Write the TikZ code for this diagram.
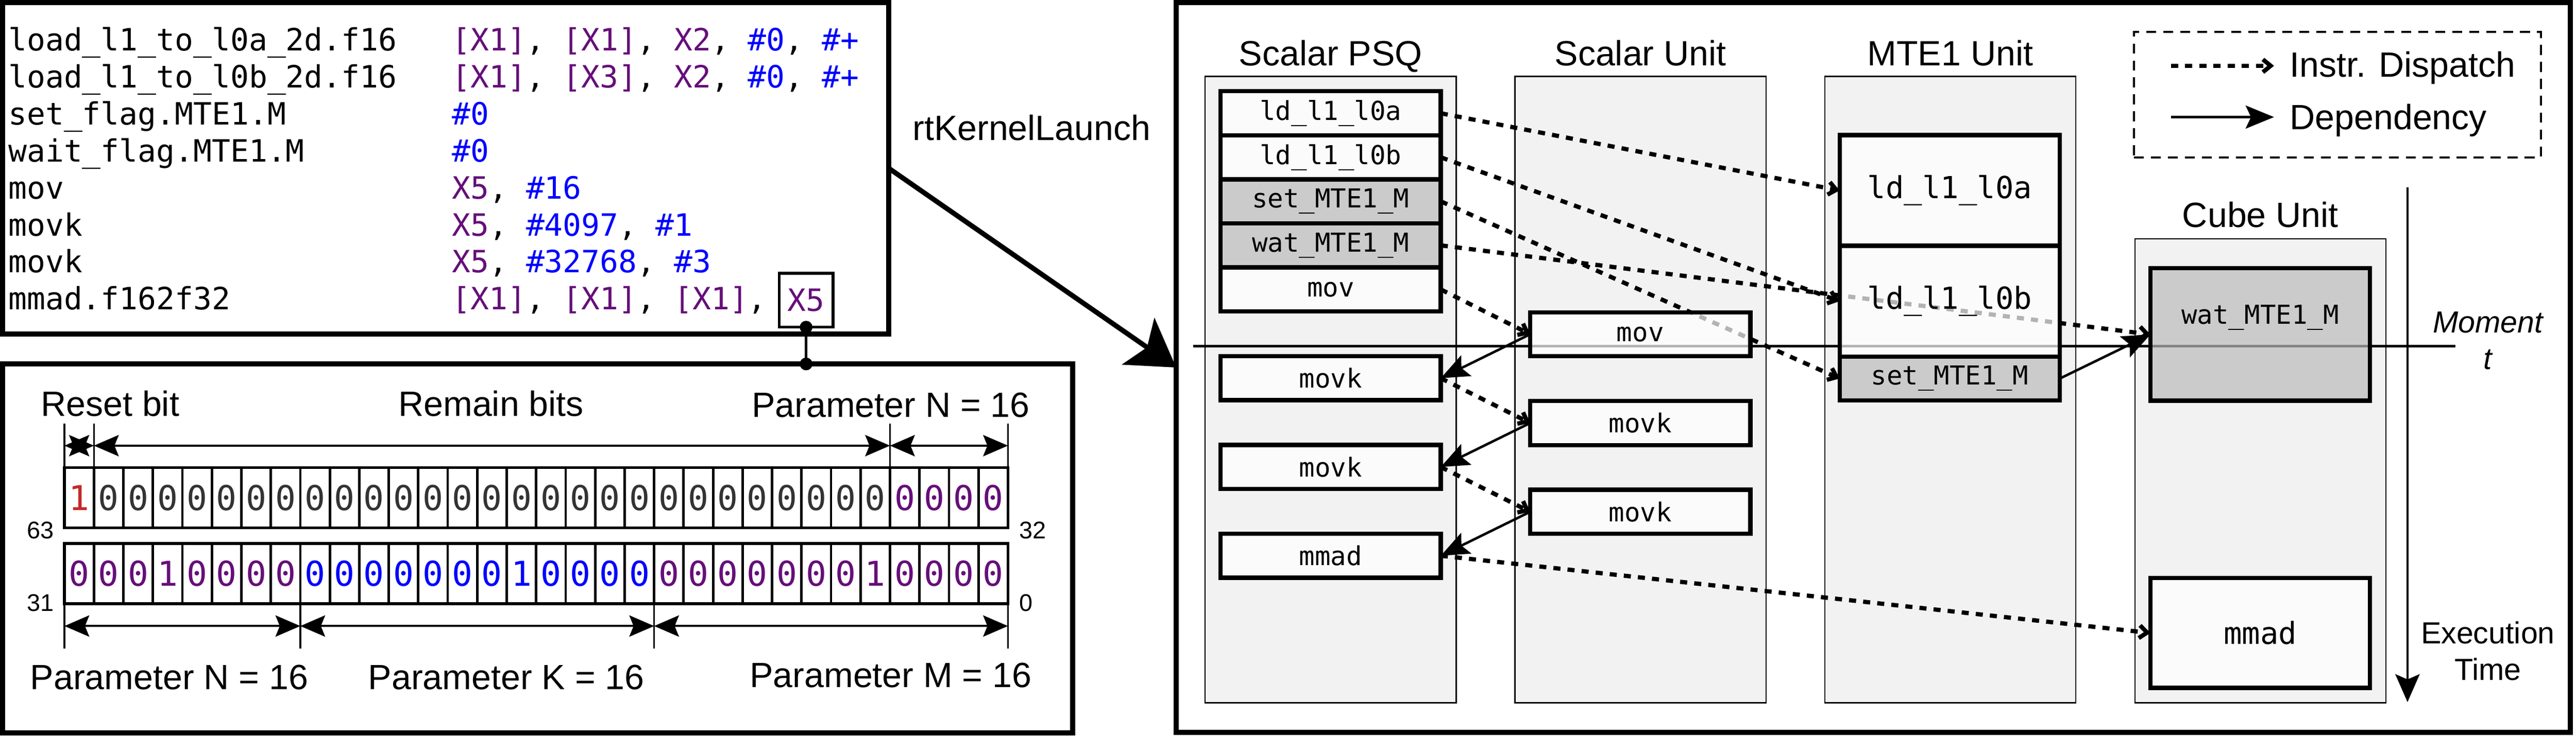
\documentclass[tikz,border=0pt]{standalone}
\usepackage{fontspec}
\setmainfont{Liberation Sans}
\newfontfamily\monofam{DejaVu Sans Mono}
\usetikzlibrary{arrows.meta}
\usetikzlibrary{positioning}

\definecolor{regpurple}{HTML}{660E7A}
\definecolor{immblue}{HTML}{0000FF}
\definecolor{bitred}{HTML}{C62828}
\definecolor{bitgrey}{HTML}{333333}
\definecolor{lanegrey}{HTML}{F2F2F2}
\definecolor{flaggrey}{HTML}{BBBBBB}

\newcommand{\fntlbl}{\fontsize{28.2}{34}\selectfont}
\newcommand{\fntsml}{\fontsize{24.5}{29.3}\selectfont}
\newcommand{\fntidx}{\fontsize{19.4}{23}\selectfont}
\newcommand{\fntasm}{\monofam\fontsize{24.7}{29.7}\selectfont}
\newcommand{\fntins}{\monofam\fontsize{21}{25}\selectfont}
\newcommand{\fntbig}{\monofam\fontsize{24.4}{29}\selectfont}
\newcommand{\fntbit}{\monofam\fontsize{27.5}{33}\selectfont}
\newcommand{\regc}[1]{\textcolor{regpurple}{#1}}
\newcommand{\immc}[1]{\textcolor{immblue}{#1}}

\pgfdeclarelayer{background}
\pgfdeclarelayer{wires}
\pgfsetlayers{background,wires,main}

\tikzset{
  panel/.style={draw, line width=0.14cm, anchor=north west, inner sep=0pt, outer sep=0pt},
  lane/.style={draw, fill=lanegrey, line width=0.035cm, anchor=north west, minimum width=7.09cm, outer sep=0pt},
  ins/.style={draw, line width=0.12cm, fill=white, fill opacity=0.7, text opacity=1, minimum width=6.22cm, minimum height=1.245cm, inner sep=0pt, outer sep=0pt, font=\fntins},
  flag/.style={ins, fill=flaggrey},
  bitrow/.style={draw, line width=0.08cm, anchor=north west, outer sep=0pt, minimum width=26.65cm, minimum height=1.7cm},
  title/.style={font=\fntlbl, anchor=base, inner sep=0pt},
  asm/.style={font=\fntasm, anchor=base west, inner sep=0pt},
  bit/.style={font=\fntbit, inner sep=0pt},
  idx/.style={font=\fntidx, inner sep=0pt},
  dispatch/.style={line width=0.12cm, dash pattern=on 0.2cm off 0.2cm, -{Straight Barb[length=0.22cm,width=0.36cm]}},
  dep/.style={line width=0.07cm, -{Stealth[length=0.8cm,width=0.65cm,inset=0.15cm]}},
  span/.style={line width=0.06cm, {Stealth[length=0.7cm,width=0.6cm,inset=0.12cm]}-{Stealth[length=0.7cm,width=0.6cm,inset=0.12cm]}},
}

\begin{document}
\begin{tikzpicture}
\useasboundingbox (0,0) rectangle (72.76,-20.80);

% assembly listing
\node[panel, minimum width=25.03cm, minimum height=9.37cm] (code) at (0.07,-0.07) {};
\node[asm] (c1) at (0.23,-1.43) {load\_l1\_to\_l0a\_2d.f16};
\node[asm] (c2) at (0.23,-2.477) {load\_l1\_to\_l0b\_2d.f16};
\node[asm] (c3) at (0.23,-3.524) {set\_flag.MTE1.M};
\node[asm] (c4) at (0.23,-4.571) {wait\_flag.MTE1.M};
\node[asm] (c5) at (0.23,-5.618) {mov};
\node[asm] (c6) at (0.23,-6.665) {movk};
\node[asm] (c7) at (0.23,-7.712) {movk};
\node[asm] (c8) at (0.23,-8.759) {mmad.f162f32};
\node[asm] (o1) at (12.76,-1.43) {\regc{[X1]}, \regc{[X1]}, \regc{X2}, \immc{\#0}, \immc{\#+}};
\node[asm] (o2) at (12.76,-2.477) {\regc{[X1]}, \regc{[X3]}, \regc{X2}, \immc{\#0}, \immc{\#+}};
\node[asm] (o3) at (12.76,-3.524) {\immc{\#0}};
\node[asm] (o4) at (12.76,-4.571) {\immc{\#0}};
\node[asm] (o5) at (12.76,-5.618) {\regc{X5}, \immc{\#16}};
\node[asm] (o6) at (12.76,-6.665) {\regc{X5}, \immc{\#4097}, \immc{\#1}};
\node[asm] (o7) at (12.76,-7.712) {\regc{X5}, \immc{\#32768}, \immc{\#3}};
\node[asm] (o8) at (12.76,-8.759) {\regc{[X1]}, \regc{[X1]}, \regc{[X1]},};
\node[draw, line width=0.08cm, outer sep=0pt, inner sep=0pt, minimum width=1.52cm, minimum height=1.52cm, font=\fntasm, right=0.35cm of o8] (x5) {\regc{X5}};

% bit layout of X5
\node[panel, minimum width=30.23cm, minimum height=10.43cm] (bits) at (0.07,-10.29) {};
\coordinate (tap) at (x5.south |- bits.north);
\draw[line width=0.07cm] (x5.south) -- (tap);
\fill (x5.south) circle (0.18cm);
\fill (tap) circle (0.18cm);

\node[bitrow] (hirow) at (1.82,-13.22) {};
\node[bitrow] (lorow) at (1.82,-15.37) {};
\foreach \k in {1,...,31} {
  \draw[line width=0.07cm] ([xshift=\k*0.8328cm]hirow.north west) -- ([xshift=\k*0.8328cm]hirow.south west);
  \draw[line width=0.07cm] ([xshift=\k*0.8328cm]lorow.north west) -- ([xshift=\k*0.8328cm]lorow.south west);
}
\foreach \i in {0,...,31} {
  \ifnum\i=0 \def\bv{1}\def\bc{bitred}\else\def\bv{0}\ifnum\i>27 \def\bc{regpurple}\else\def\bc{bitgrey}\fi\fi
  \node[bit, text=\bc] (h\i) at ([xshift={(\i+0.5)*0.8328cm}]hirow.west) {\bv};
}
\foreach \i in {0,...,31} {
  \def\bv{0}\def\bc{regpurple}
  \ifnum\i>7 \ifnum\i<20 \def\bc{immblue}\fi\fi
  \ifnum\i=3 \def\bv{1}\fi
  \ifnum\i=15 \def\bv{1}\fi
  \ifnum\i=27 \def\bv{1}\fi
  \node[bit, text=\bc] (l\i) at ([xshift={(\i+0.5)*0.8328cm}]lorow.west) {\bv};
}
\node[idx, anchor=east] (i63) at (1.53,-15.00) {63};
\node[idx, anchor=west] (i32) at (28.79,-15.00) {32};
\node[idx, anchor=east] (i31) at (1.53,-17.05) {31};
\node[idx, anchor=west] (i0) at (28.79,-17.05) {0};

\foreach \k/\n in {0/ua, 1/ub, 28/uc, 32/ud}
  \draw[line width=0.05cm] ([xshift=\k*0.8328cm]hirow.north west) -- ++(0,1.24) coordinate[pos=0.5] (\n);
\foreach \k/\n in {0/da, 8/db, 20/dc, 32/dd}
  \draw[line width=0.05cm] ([xshift=\k*0.8328cm]lorow.south west) -- ++(0,-1.26) coordinate[pos=0.5] (\n);
\draw[span] (ua) -- (ub);
\draw[span] (ub) -- (uc);
\draw[span] (uc) -- (ud);
\draw[span] (da) -- (db);
\draw[span] (db) -- (dc);
\draw[span] (dc) -- (dd);

\node[title] (reset) at (3.11,-11.76) {Reset bit};
\node[title] (remain) at (13.87,-11.76) {Remain bits};
\node[title] (hin) at (25.16,-11.79) {Parameter N = 16};
\node[title] (lon) at (4.78,-19.49) {Parameter N = 16};
\node[title] (lok) at (14.30,-19.49) {Parameter K = 16};
\node[title] (lom) at (25.16,-19.43) {Parameter M = 16};

% pipeline view
\node[panel, minimum width=39.38cm, minimum height=20.64cm] (sched) at (33.22,-0.07) {};
\node[title] (launch) at (29.14,-3.96) {rtKernelLaunch};
\draw[line width=0.14cm, -{Stealth[length=1.3cm,width=1.6cm,inset=0.3cm]}] (code.east) -- (sched.west);

\begin{pgfonlayer}{background}
\node[lane, minimum height=17.71cm] (psq) at (34.04,-2.16) {};
\node[lane, minimum height=17.71cm, right=1.66cm of psq] (scu) {};
\node[lane, minimum height=17.71cm, right=1.66cm of scu] (mte) {};
\node[lane, minimum height=13.12cm] (cube) at (60.30,-6.75) {};
\end{pgfonlayer}
\node[title] at ([yshift=0.30cm]psq.north) {Scalar PSQ};
\node[title] at ([yshift=0.30cm]scu.north) {Scalar Unit};
\node[title] at ([yshift=0.30cm]mte.north) {MTE1 Unit};
\node[title] at ([yshift=0.33cm]cube.north) {Cube Unit};

\node[ins] (pa) at (37.585,-3.2025) {ld\_l1\_l0a};
\node[ins, below=0pt of pa] (pb) {ld\_l1\_l0b};
\node[flag, below=0pt of pb] (pc) {set\_MTE1\_M};
\node[flag, below=0pt of pc] (pd) {wat\_MTE1\_M};
\node[ins, below=0pt of pd] (pe) {mov};
\node[ins, below=1.265cm of pe] (qa) {movk};
\node[ins, below=1.265cm of qa] (qb) {movk};
\node[ins, below=1.265cm of qb] (qc) {mmad};

\node[ins] (sa) at (46.33,-9.45) {mov};
\node[ins, below=1.265cm of sa] (sb) {movk};
\node[ins, below=1.265cm of sb] (sc) {movk};

\node[ins, font=\fntbig, minimum height=3.13cm] (ma) at (55.07,-5.385) {ld\_l1\_l0a};
\node[ins, font=\fntbig, minimum height=3.13cm, below=0pt of ma] (mb) {ld\_l1\_l0b};
\node[flag, below=0pt of mb] (mc) {set\_MTE1\_M};

\node[flag, minimum width=6.20cm, minimum height=3.75cm] (cw) at (63.84,-9.455) {};
\node[font=\fntins, inner sep=0pt] (cwt) at ([yshift=0.48cm]cw.center) {wat\_MTE1\_M};
\node[ins, font=\fntbig, minimum width=6.20cm, minimum height=3.11cm] (cm) at (63.84,-17.895) {mmad};

\begin{pgfonlayer}{wires}
\coordinate (mt0) at (33.70,-9.79);
\coordinate (mt1) at (69.35,-9.79);
\draw[line width=0.07cm] (mt0) -- (mt1);
\draw[dispatch] (pa.east) -- (ma.west);
\draw[dispatch] (pb.east) -- (mb.west);
\draw[dispatch] (pc.east) -- (mc.west);
\draw[dispatch] (pd.east) -- (cw.west);
\draw[dispatch] (pe.east) -- (sa.west);
\draw[dispatch] (qa.east) -- (sb.west);
\draw[dispatch] (qb.east) -- (sc.west);
\draw[dispatch] (qc.east) -- (cm.west);
\draw[dep] (sa.west) -- (qa.east);
\draw[dep] (sb.west) -- (qb.east);
\draw[dep] (sc.west) -- (qc.east);
\draw[dep] (mc.east) -- (cw.west);
\end{pgfonlayer}

% legend
\node[draw, line width=0.06cm, dash pattern=on 0.28cm off 0.2cm, anchor=north west, outer sep=0pt, minimum width=11.5cm, minimum height=3.55cm] (legend) at (60.27,-0.90) {};
\coordinate (lg1) at (61.32,-1.86);
\coordinate (lg2) at (64.23,-1.86);
\coordinate (lg3) at (61.32,-3.31);
\coordinate (lg4) at (64.23,-3.31);
\draw[dispatch] (lg1) -- (lg2);
\draw[dep, line width=0.08cm] (lg3) -- (lg4);
\node[title, anchor=base west] (lgd) at (64.67,-2.18) {Instr. Dispatch};
\node[title, anchor=base west] (lgp) at (64.67,-3.66) {Dependency};

% time axis
\node[font=\fntsml\itshape, align=center, inner sep=0pt] (moment) at (70.27,-9.63) {Moment\\t};
\coordinate (et0) at (68.00,-5.30);
\coordinate (et1) at (68.00,-19.85);
\draw[line width=0.05cm, -{Stealth[length=0.79cm,width=0.69cm,inset=0.15cm]}] (et0) -- (et1);
\node[font=\fntsml, align=center, inner sep=0pt] (exec) at (70.27,-18.41) {Execution\\Time};
\end{tikzpicture}
\end{document}
